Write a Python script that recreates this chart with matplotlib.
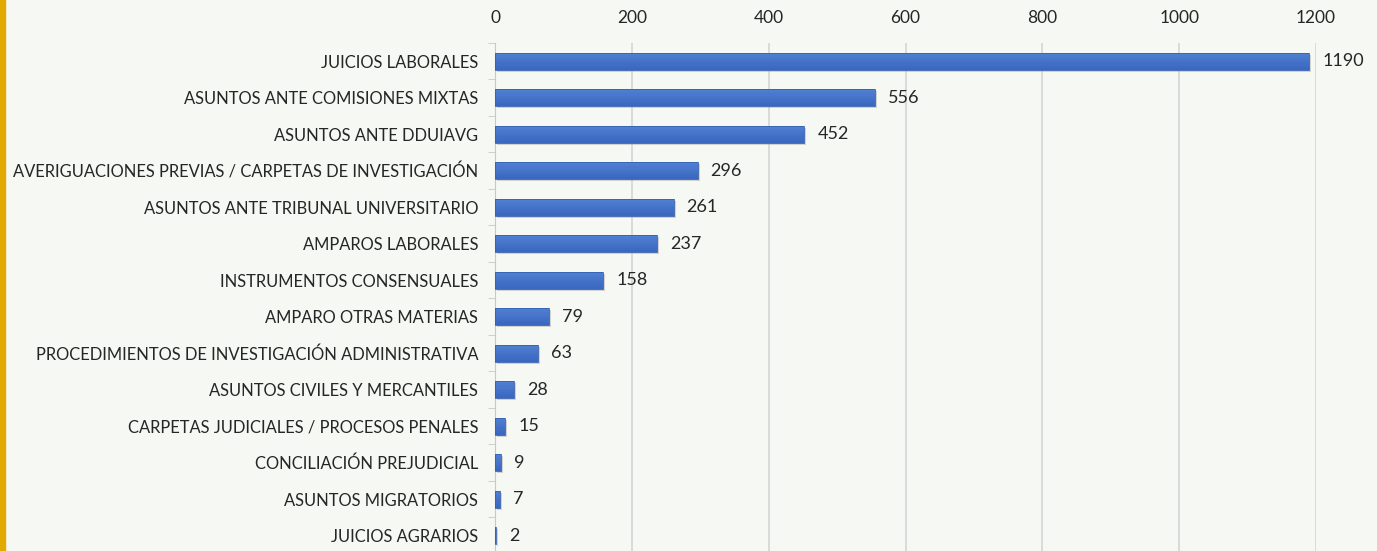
import numpy as np
import matplotlib.pyplot as plt
from matplotlib.patches import Rectangle

# Input data
categories = [
    'JUICIOS LABORALES',
    'ASUNTOS ANTE COMISIONES MIXTAS',
    'ASUNTOS ANTE DDUIAVG',
    'AVERIGUACIONES PREVIAS / CARPETAS DE INVESTIGACIÓN',
    'ASUNTOS ANTE TRIBUNAL UNIVERSITARIO',
    'AMPAROS LABORALES',
    'INSTRUMENTOS CONSENSUALES',
    'AMPARO OTRAS MATERIAS',
    'PROCEDIMIENTOS DE INVESTIGACIÓN ADMINISTRATIVA',
    'ASUNTOS CIVILES Y MERCANTILES',
    'CARPETAS JUDICIALES / PROCESOS PENALES',
    'CONCILIACIÓN PREJUDICIAL',
    'ASUNTOS MIGRATORIOS',
    'JUICIOS AGRARIOS',
]
values = [1190, 556, 452, 296, 261, 237, 158, 79, 63, 28, 15, 9, 7, 2]
xticks = [0, 200, 400, 600, 800, 1000, 1200]

bg = '#f6f8f3'
plt.rcParams['font.family'] = ['Lato', 'DejaVu Sans']

fig = plt.figure(figsize=(13.77, 5.51), dpi=100, facecolor=bg)
ax = fig.add_axes([0.3595, -0.0054, 0.5962, 0.9274], facecolor=bg)

# yellow strip on the left edge
fig.patches.append(Rectangle((0, 0), 5 / 1377, 1, transform=fig.transFigure,
                             color='#e2a900', zorder=0))

y = np.arange(len(categories))
h = 0.47
# soft shadow
ax.barh(y + 0.06, values, height=h, left=3, color='#9a9a9a', alpha=0.4, zorder=2)
# bar body with a light vertical gradient
nstrip = 8
cols = plt.matplotlib.colors.LinearSegmentedColormap.from_list('g', ['#4f7fd2', '#3a67bf'])
for k in range(nstrip):
    ax.barh(y - h / 2 + h * (k + 0.5) / nstrip, values, height=h / nstrip,
            color=cols(k / (nstrip - 1)), linewidth=0, zorder=3)
ax.barh(y, values, height=h, fill=False, edgecolor='#3560b0', linewidth=0.6, zorder=4)

for yi, v in zip(y, values):
    ax.text(v + 19, yi, str(v), va='center', ha='left', fontsize=13, color='#262626')

ax.set_xlim(0, 1200)
ax.set_ylim(len(categories) - 0.5, -0.5)
ax.set_yticks(y)
ax.set_yticklabels(categories, fontsize=11.9, color='#262626')
ax.set_yticks(np.arange(len(categories)) - 0.5, minor=True)
ax.tick_params(axis='y', which='major', length=0, pad=12)
ax.tick_params(axis='y', which='minor', length=5, color='#c8c8c8')

ax.xaxis.tick_top()
ax.set_xticks(xticks)
ax.tick_params(axis='x', length=0, labelsize=12.5, labelcolor='#262626', pad=12)
ax.grid(axis='x', color='#d4d4d4', linewidth=1.2, zorder=0)
ax.set_axisbelow(True)

for s in ['top', 'right', 'bottom']:
    ax.spines[s].set_visible(False)
ax.spines['left'].set_color('#c8c8c8')

plt.savefig('out.png', dpi=100, facecolor=bg)
